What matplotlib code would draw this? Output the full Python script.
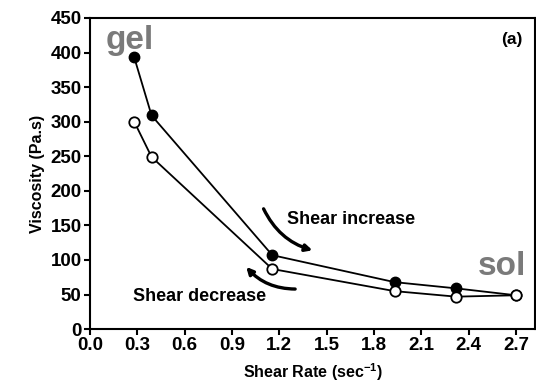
import matplotlib
matplotlib.use("Agg")
import matplotlib.pyplot as plt
from matplotlib.patches import FancyArrowPatch

plt.rcParams['font.family'] = ['Liberation Sans', 'DejaVu Sans']
plt.rcParams['font.weight'] = 'bold'
plt.rcParams['mathtext.fontset'] = 'custom'
plt.rcParams['mathtext.bf'] = 'Liberation Sans:bold'
plt.rcParams['mathtext.rm'] = 'Liberation Sans:bold'

shear_inc_x = [0.28, 0.39, 1.155, 1.93, 2.32, 2.70]
visc_inc = [393, 309, 107, 68, 59, 49]
shear_dec_x = [0.28, 0.39, 1.155, 1.93, 2.32, 2.70]
visc_dec = [300, 249, 87, 55, 47, 49]
xticks = [0.0, 0.3, 0.6, 0.9, 1.2, 1.5, 1.8, 2.1, 2.4, 2.7]
yticks = [0, 50, 100, 150, 200, 250, 300, 350, 400, 450]

fig = plt.figure(figsize=(5.36, 3.90), dpi=100)
ax = fig.add_axes([0.168, 0.156, 0.830, 0.798])

ax.plot(shear_inc_x, visc_inc, '-o', color='black', lw=1.3, ms=7.5,
        mfc='black', mec='black', zorder=3)
ax.plot(shear_dec_x, visc_dec, '-o', color='black', lw=1.3, ms=7.5,
        mfc='white', mec='black', mew=1.3, zorder=3)

ax.set_xlim(0, 2.82)
ax.set_ylim(0, 450)
ax.set_xticks(xticks)
ax.set_xticklabels([f"{v:.1f}" for v in xticks])
ax.set_yticks(yticks)
ax.tick_params(labelsize=13.5, width=1.5, length=4, pad=2)
for lab in ax.get_xticklabels() + ax.get_yticklabels():
    lab.set_fontweight('bold')
for s in ax.spines.values():
    s.set_linewidth(1.5)

ax.set_xlabel(r"Shear Rate (sec$^{\mathrm{-1}}$)", fontsize=11.5, fontweight='bold', labelpad=5)
ax.set_ylabel("Viscosity (Pa.s)", fontsize=11.5, fontweight='bold', labelpad=4)

ax.text(0.10, 418, "gel", fontsize=24, fontweight='bold', color='#7a7a7a', va='center')
ax.text(2.46, 90, "sol", fontsize=24, fontweight='bold', color='#7a7a7a', va='center')
ax.text(2.74, 419, "(a)", fontsize=12.5, fontweight='bold', ha='right', va='center')
ax.text(1.25, 158, "Shear increase", fontsize=13, fontweight='bold', va='center')
ax.text(0.27, 47, "Shear decrease", fontsize=13, fontweight='bold', va='center')

a1 = FancyArrowPatch((1.10, 174), (1.41, 114), connectionstyle="arc3,rad=0.22",
                     arrowstyle='-|>,head_length=4,head_width=2', lw=2.4, color='black',
                     shrinkA=0, shrinkB=0)
ax.add_patch(a1)
a2 = FancyArrowPatch((1.30, 58), (0.99, 90), connectionstyle="arc3,rad=-0.22",
                     arrowstyle='-|>,head_length=4,head_width=2', lw=2.4, color='black',
                     shrinkA=0, shrinkB=0)
ax.add_patch(a2)

fig.savefig("out.png", dpi=100)
